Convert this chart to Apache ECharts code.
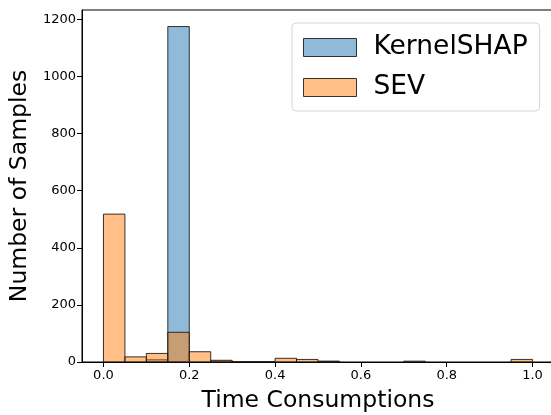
<!DOCTYPE html>
<html>
<head>
<meta charset="utf-8">
<script src="https://cdn.jsdelivr.net/npm/echarts@6/dist/echarts.min.js"></script>
<style>html,body{margin:0;padding:0;background:#fff;}#c{width:551px;height:415px;}</style>
</head>
<body>
<div id="c"></div>
<script>
const binStarts = [0.00,0.05,0.10,0.15,0.20,0.25,0.30,0.35,0.40,0.45,0.50,0.55,0.60,0.65,0.70,0.75,0.80,0.85,0.90,0.95];
const binWidth = 0.05;
const kernelShap = [0,0,8,1175,0,3,0,0,0,0,2,0,0,0,0,0,0,0,0,0];
const sev = [518,18,30,104,36,6,1,1,13,9,3,0,0,0,3,0,0,0,0,9];
const yTicks = [0,200,400,600,800,1000,1200];
const xTicks = [0.0,0.2,0.4,0.6,0.8,1.0];

const FONT = 'DejaVu Sans';
const blue = 'rgba(31,119,180,0.5)';
const orange = 'rgba(255,127,14,0.5)';
const edge = 'rgba(20,20,20,0.85)';

function toData(vals){ return binStarts.map((s,i)=>[s, s+binWidth, vals[i]]); }
function renderBar(params, api){
  const v = api.value(2);
  if (!v) return null;
  const p0 = api.coord([api.value(0), v]);
  const p1 = api.coord([api.value(1), 0]);
  return {
    type:'rect',
    shape:{x:p0[0], y:p0[1], width:p1[0]-p0[0], height:p1[1]-p0[1]},
    style:{fill: api.visual('color'), stroke: edge, lineWidth: 1}
  };
}

const chart = echarts.init(document.getElementById('c'), null, {renderer:'canvas'});
chart.setOption({
  animation:false,
  textStyle:{fontFamily:FONT},
  grid:{left:82, top:10, right:-3, bottom:53, outerBoundsMode:'none', containLabel:false,
        show:true, borderColor:'#000', borderWidth:1, backgroundColor:'transparent'},
  legend:{
    left:292, top:23, orient:'vertical',
    backgroundColor:'#fff', borderColor:'#d6d6d6', borderWidth:1, borderRadius:4,
    padding:[11,12,10,11], itemGap:13, itemWidth:53, itemHeight:18,
    textStyle:{fontFamily:FONT, fontSize:26.5, color:'#000', padding:[0,0,0,12]},
    data:[
      {name:'KernelSHAP', icon:'rect', itemStyle:{color:blue, borderColor:edge, borderWidth:1}},
      {name:'SEV', icon:'rect', itemStyle:{color:orange, borderColor:edge, borderWidth:1}}
    ]
  },
  xAxis:{
    type:'value', min:-0.05, max:1.05,
    name:'Time Consumptions', nameLocation:'middle', nameGap:27,
    nameTextStyle:{fontFamily:FONT, fontSize:23.5, color:'#000'},
    axisLine:{show:true, onZero:false, lineStyle:{color:'#000', width:1}},
    axisTick:{show:true, length:5, lineStyle:{color:'#000'}, customValues:xTicks},
    axisLabel:{fontFamily:FONT, fontSize:13, color:'#000', margin:7, customValues:xTicks, formatter:v=>v.toFixed(1)},
    splitLine:{show:false}
  },
  yAxis:{
    type:'value', min:0, max:1233,
    name:'Number of Samples', nameLocation:'middle', nameGap:48,
    nameTextStyle:{fontFamily:FONT, fontSize:23.5, color:'#000'},
    axisLine:{show:true, onZero:false, lineStyle:{color:'#000', width:1}},
    axisTick:{show:true, length:5, lineStyle:{color:'#000'}, customValues:yTicks},
    axisLabel:{fontFamily:FONT, fontSize:13, color:'#000', margin:6, customValues:yTicks, formatter:v=>String(v)},
    splitLine:{show:false}
  },
  series:[
    {name:'KernelSHAP', type:'custom', renderItem:renderBar, itemStyle:{color:blue}, encode:{x:[0,1], y:2}, data:toData(kernelShap)},
    {name:'SEV', type:'custom', renderItem:renderBar, itemStyle:{color:orange}, encode:{x:[0,1], y:2}, data:toData(sev)}
  ]
});
</script>
</body>
</html>
